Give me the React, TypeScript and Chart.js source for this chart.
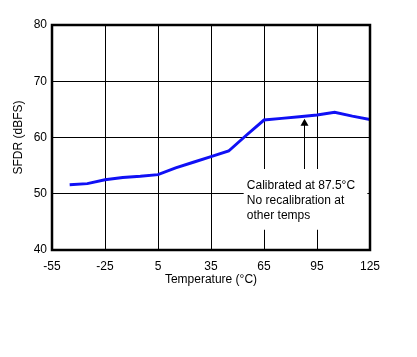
import React, { useEffect, useRef } from "react";
import { Chart, registerables } from "chart.js";

Chart.register(...registerables);

const temps = [-45, -35, -25, -15, -5, 5, 15, 25, 35, 45, 55, 65, 75, 85, 95, 105, 115, 125];
const sfdr = [51.6, 51.8, 52.5, 52.9, 53.1, 53.4, 54.6, 55.6, 56.6, 57.6, 60.4, 63.1, 63.4, 63.7, 64.0, 64.5, 63.8, 63.2];
const xTicks = [-55, -25, 5, 35, 65, 95, 125];
const yTicks = [40, 50, 60, 70, 80];
const noteLines = ["Calibrated at 87.5°C", "No recalibration at", "other temps"];
const calibTemp = 87.5;

const FONT = "'Liberation Sans', Arial, sans-serif";

export default function App() {
  const ref = useRef<HTMLCanvasElement | null>(null);

  useEffect(() => {
    const canvas = ref.current;
    if (!canvas) return;

    const framePlugin = {
      id: "frame",
      afterDraw(chart: any) {
        const { ctx, chartArea: a } = chart;
        ctx.save();
        ctx.strokeStyle = "#000";
        ctx.lineWidth = 2.5;
        ctx.strokeRect(a.left, a.top, a.right - a.left, a.bottom - a.top);
        ctx.restore();
      },
    };

    const notePlugin = {
      id: "note",
      beforeDatasetsDraw(chart: any) {
        const { ctx } = chart;
        const xs = chart.scales.x;
        const ys = chart.scales.y;
        const bx0 = xs.getPixelForValue(53.5);
        const bx1 = xs.getPixelForValue(123.5);
        const by0 = ys.getPixelForValue(54.4);
        const by1 = ys.getPixelForValue(43.6);
        ctx.save();
        ctx.fillStyle = "#fff";
        ctx.fillRect(bx0, by0, bx1 - bx0, by1 - by0);
        ctx.fillStyle = "#000";
        ctx.font = `12px ${FONT}`;
        ctx.textAlign = "left";
        ctx.textBaseline = "middle";
        const tx = xs.getPixelForValue(55.3);
        const ty = ys.getPixelForValue(51.5);
        noteLines.forEach((l, i) => ctx.fillText(l, tx, ty + i * 15));
        ctx.restore();
      },
      afterDatasetsDraw(chart: any) {
        const { ctx } = chart;
        const xs = chart.scales.x;
        const ys = chart.scales.y;
        const ax = Math.round(xs.getPixelForValue(calibTemp)) + 0.5;
        const tip = ys.getPixelForValue(63.35);
        const bottom = ys.getPixelForValue(54.4);
        ctx.save();
        ctx.strokeStyle = "#000";
        ctx.fillStyle = "#000";
        ctx.lineWidth = 1;
        ctx.beginPath();
        ctx.moveTo(ax, tip + 6);
        ctx.lineTo(ax, bottom);
        ctx.stroke();
        ctx.beginPath();
        ctx.moveTo(ax, tip);
        ctx.lineTo(ax - 4, tip + 7);
        ctx.lineTo(ax + 4, tip + 7);
        ctx.closePath();
        ctx.fill();
        ctx.restore();
      },
    };

    const chart = new Chart(canvas, {
      type: "line",
      data: {
        datasets: [
          {
            data: temps.map((t, i) => ({ x: t, y: sfdr[i] })),
            borderColor: "#1010f5",
            borderWidth: 3,
            pointRadius: 0,
            tension: 0,
            fill: false,
          },
        ],
      },
      options: {
        responsive: false,
        animation: false,
        layout: { padding: { left: 0, top: 25, right: 47, bottom: 0 } },
        plugins: { legend: { display: false }, tooltip: { enabled: false } },
        scales: {
          x: {
            type: "linear",
            min: -55,
            max: 125,
            afterBuildTicks: (s: any) => {
              s.ticks = xTicks.map((v) => ({ value: v }));
            },
            afterFit: (s: any) => {
              s.height = 107;
            },
            ticks: { color: "#000", font: { family: FONT, size: 12 }, padding: 9, maxRotation: 0 },
            grid: { color: "#000", lineWidth: 1, drawTicks: false },
            border: { display: false },
            title: {
              display: true,
              text: "Temperature (°C)",
              color: "#000",
              font: { family: FONT, size: 12 },
              padding: { top: 0, bottom: 70 },
            },
          },
          y: {
            type: "linear",
            min: 40,
            max: 80,
            afterBuildTicks: (s: any) => {
              s.ticks = yTicks.map((v) => ({ value: v }));
            },
            afterFit: (s: any) => {
              s.width = 52;
            },
            ticks: { color: "#000", font: { family: FONT, size: 12 }, padding: 5 },
            grid: { color: "#000", lineWidth: 1, drawTicks: false },
            border: { display: false },
            title: {
              display: true,
              text: "SFDR (dBFS)",
              color: "#000",
              font: { family: FONT, size: 12 },
              padding: { top: 11, bottom: 0 },
            },
          },
        },
      },
      plugins: [notePlugin, framePlugin],
    });

    return () => chart.destroy();
  }, []);

  return (
    <div style={{ position: "absolute", left: 0, top: 0, width: 417, height: 357, background: "#fff" }}>
      <canvas ref={ref} width={417} height={357} style={{ display: "block" }} />
    </div>
  );
}
